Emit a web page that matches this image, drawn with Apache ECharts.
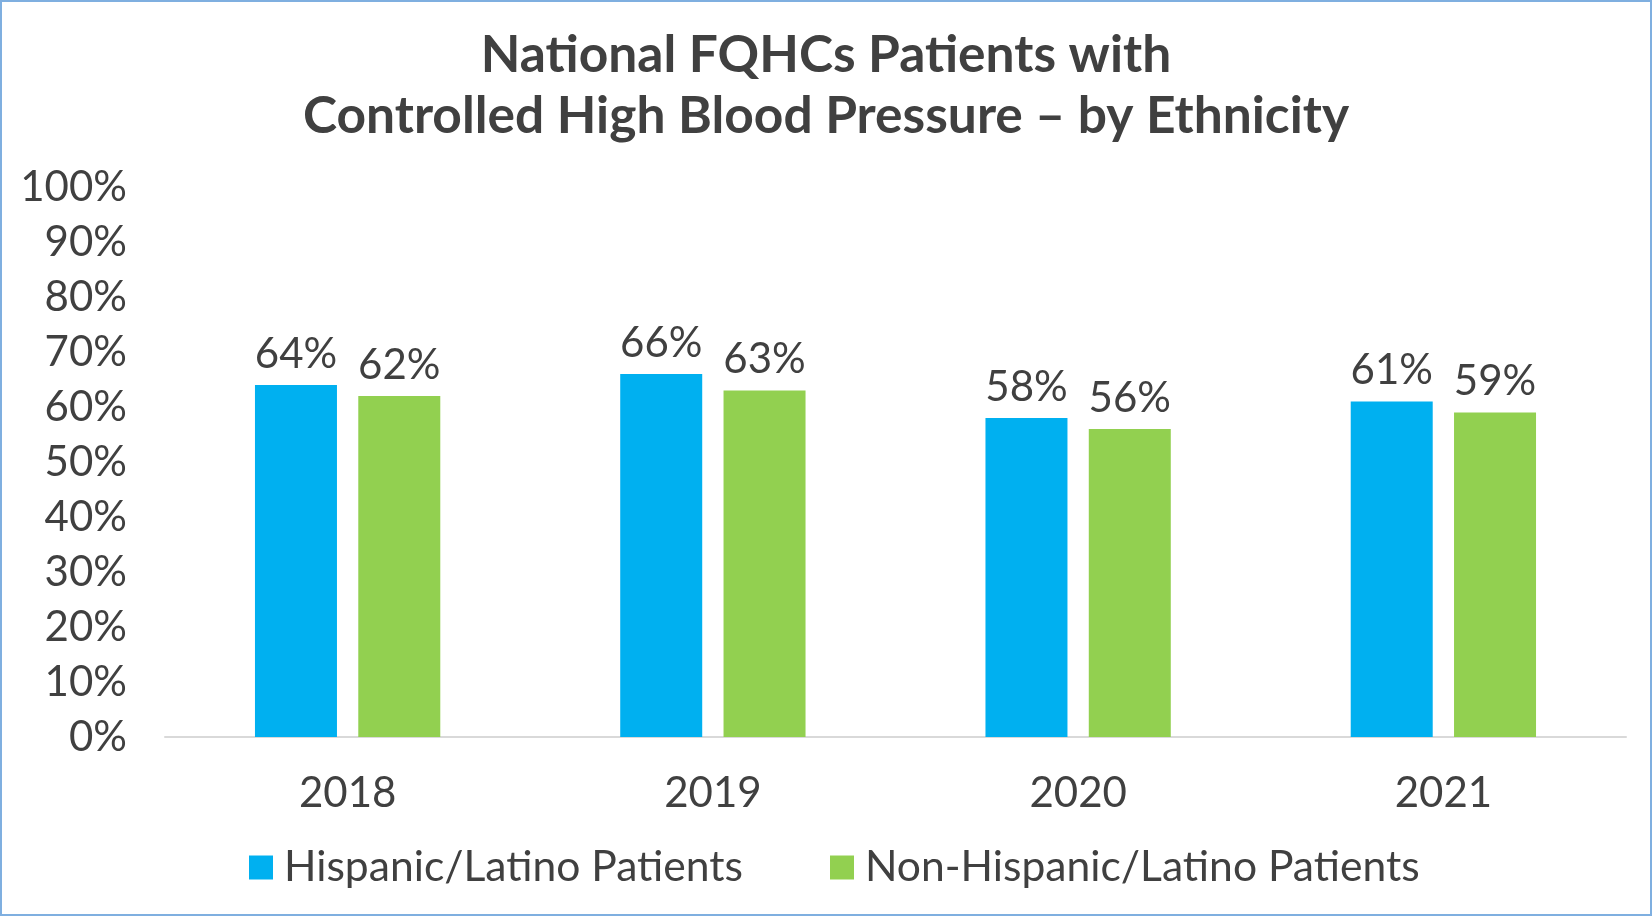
<!DOCTYPE html>
<html><head><meta charset="utf-8">
<script src="https://cdn.jsdelivr.net/npm/echarts@6/dist/echarts.min.js"></script>
<style>
html,body{margin:0;padding:0;background:#fff;}
#c{width:1648px;height:912px;border:2px solid #7FAFE0;}
</style></head>
<body><div id="c"></div>
<script>
const categories = ['2018','2019','2020','2021'];
const hispanic = [64,66,58,61];
const nonHispanic = [62,63,56,59];
const seriesNames = ['Hispanic/Latino Patients','Non-Hispanic/Latino Patients'];
const titleLines = ['National FQHCs Patients with','Controlled High Blood Pressure – by Ethnicity'];

const chart = echarts.init(document.getElementById('c'));
const txt = '#404040';
const font = 'Lato';
const fs = 42;
const lbl = {show:true, position:'top', distance:10, color:txt, fontFamily:font, fontSize:fs, formatter:'{c}%'};
chart.setOption({
  animation:false,
  title:{text:titleLines.join('\n'), left:'center', top:18,
    textStyle:{fontFamily:font, fontWeight:'bold', fontSize:51.5, color:txt, lineHeight:61}},
  legend:{bottom:20, left:242, itemWidth:24, itemHeight:24, itemGap:87, icon:'rect',
    textStyle:{fontFamily:font, fontSize:42.6, color:txt, padding:[0,0,0,6]}},
  grid:{left:163, right:24, top:185, bottom:177},
  xAxis:{type:'category', data:categories,
    axisLine:{lineStyle:{color:'#D9D9D9', width:2}}, axisTick:{show:false},
    axisLabel:{fontFamily:font, fontSize:fs, color:txt, margin:35}},
  yAxis:{type:'value', min:0, max:100, interval:10,
    splitLine:{show:false}, axisLine:{show:false}, axisTick:{show:false},
    axisLabel:{fontFamily:font, fontSize:fs, color:txt, margin:38, formatter:'{value}%'}},
  series:[
    {name:seriesNames[0], type:'bar', data:hispanic, barWidth:82, barGap:'26%',
     itemStyle:{color:'#00B0F0'}, label:lbl},
    {name:seriesNames[1], type:'bar', data:nonHispanic, barWidth:82,
     itemStyle:{color:'#92D050'}, label:lbl}
  ]
});
</script></body></html>
